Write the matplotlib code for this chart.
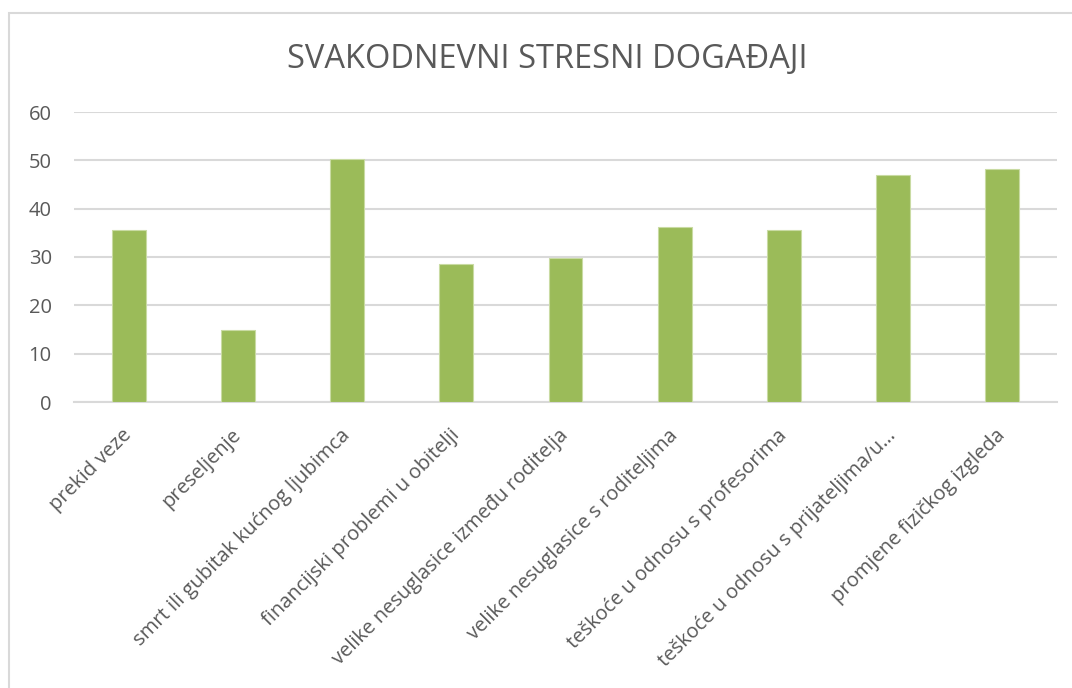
import matplotlib
matplotlib.use('Agg')
import matplotlib.pyplot as plt
from matplotlib.patches import Rectangle

# Data
categories = [
    'prekid veze',
    'preseljenje',
    'smrt ili gubitak kućnog ljubimca',
    'financijski problemi u obitelji',
    'velike nesuglasice između roditelja',
    'velike nesuglasice s roditeljima',
    'teškoće u odnosu s profesorima',
    'teškoće u odnosu s prijateljima/u…',
    'promjene fizičkog izgleda',
]
values = [35.6, 14.9, 50.3, 28.6, 29.8, 36.3, 35.6, 46.9, 48.3]
y_ticks = [0, 10, 20, 30, 40, 50, 60]

text_col = '#595959'
grid_col = '#D9D9D9'
bar_col = '#9BBB59'

plt.rcParams['font.family'] = ['Open Sans', 'DejaVu Sans']

fig = plt.figure(figsize=(10.72, 6.88), dpi=100)
# chart-area border
fig.patches.append(Rectangle((9 / 1072, -0.1), 1.2, (688 - 13) / 688 + 0.1,
                             transform=fig.transFigure, fill=False,
                             edgecolor=grid_col, linewidth=1.5))

ax = fig.add_axes([74 / 1072, (688 - 402) / 688, (1057 - 74) / 1072, 290 / 688])
x = range(len(categories))
ax.bar(x, values, width=0.31, color=bar_col, edgecolor='#C9DBA3', linewidth=0.8, zorder=3)

ax.set_xlim(-0.5, len(categories) - 0.5)
ax.set_ylim(0, 60)
ax.set_yticks(y_ticks)
ax.yaxis.grid(True, color=grid_col, linewidth=1.5, zorder=0)
for s in ['top', 'right', 'left']:
    ax.spines[s].set_visible(False)
ax.spines['bottom'].set_color(grid_col)
ax.spines['bottom'].set_linewidth(1.5)
ax.tick_params(axis='both', length=0, colors=text_col, labelsize=14.5)
ax.tick_params(axis='y', pad=16)
ax.set_xticks(list(x))
ax.set_xticklabels(categories, rotation=45, ha='right', va='center',
                   rotation_mode='anchor')
ax.tick_params(axis='x', pad=22)

fig.text(547 / 1072, 1 - 60 / 688, 'SVAKODNEVNI STRESNI DOGAĐAJI', ha='center',
         va='center', fontsize=23.5, color=text_col)

fig.savefig('out.png', dpi=100)
